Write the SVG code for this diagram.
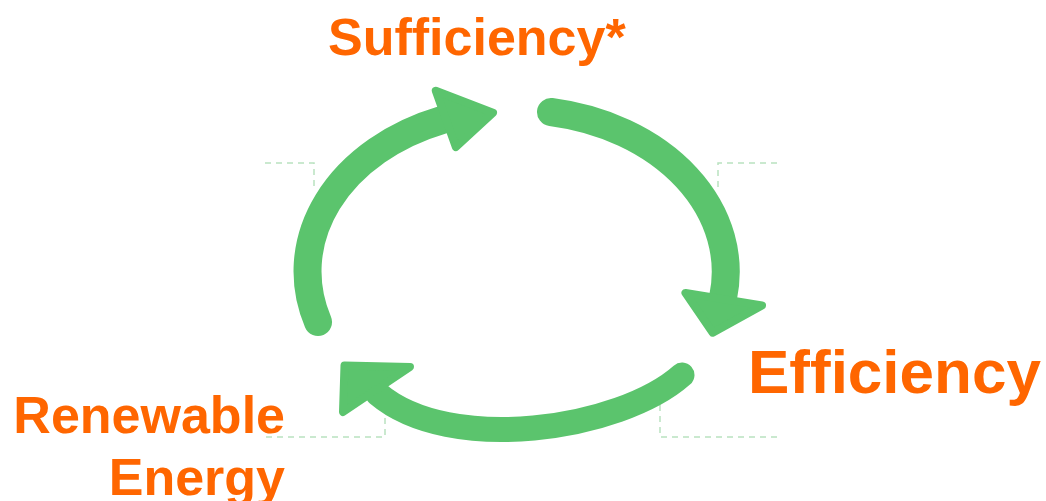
<svg xmlns="http://www.w3.org/2000/svg" width="1046" height="501" viewBox="0 0 1046 501">
  <style>
    .shaft { fill: none; stroke: #5bc46d; stroke-linecap: round; }
    .head { fill: #5bc46d; stroke: #5bc46d; stroke-width: 8; stroke-linejoin: round; }
    .guide { fill: none; stroke: #b9e2c0; stroke-width: 1.5; stroke-dasharray: 6 5; }
    .label { fill: #ff6600; font-family: "Liberation Sans", Arial, sans-serif; font-weight: bold; }
  </style>
  <rect width="1046" height="501" fill="#ffffff"/>
  <g id="guides">
    <path class="guide" d="M265,163 H314 V188"/>
    <path class="guide" d="M777,163 H718 V188"/>
    <path class="guide" d="M266,437 H385 V410"/>
    <path class="guide" d="M777,437 H660 V405"/>
  </g>
  <g id="connectors">
    <g id="arrow-renewable-to-sufficiency">
      <path class="shaft" stroke-width="28" d="M318,322 A209,162 0 0 1 442,120"/>
      <polygon class="head" points="435.8,90.8 493,112.7 455.8,147"/>
    </g>
    <g id="arrow-sufficiency-to-efficiency">
      <path class="shaft" stroke-width="28" d="M551,112 A209,162 0 0 1 723,298"/>
      <polygon class="head" points="685.5,292.9 762,305.5 712.7,332.7"/>
    </g>
    <g id="arrow-efficiency-to-renewable">
      <path class="shaft" stroke-width="25" d="M682,375 C620,430 450,455 378,394"/>
      <polygon class="head" points="344.5,365.4 410,367 343,412"/>
    </g>
  </g>
  <g id="node-sufficiency">
    <text class="label" x="328" y="55" font-size="52">Sufficiency*</text>
  </g>
  <g id="node-efficiency">
    <text class="label" x="748" y="393" font-size="62">Efficiency</text>
  </g>
  <g id="node-renewable">
    <text class="label" font-size="52" text-anchor="end"><tspan x="285" y="433">Renewable</tspan><tspan x="285" y="495">Energy</tspan></text>
  </g>
</svg>
